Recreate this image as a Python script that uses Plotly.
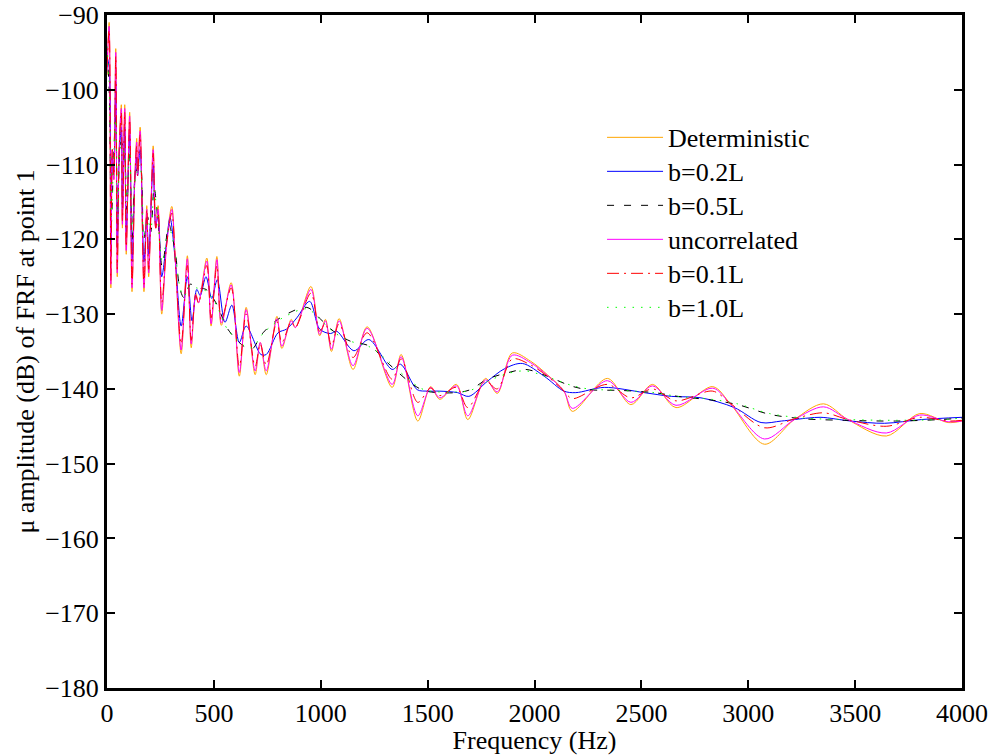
import plotly.graph_objects as go

# Frequency grid (Hz) of the deterministic / uncorrelated / b=0.1L curves
freq_main = [0, 10, 18, 25, 32, 41, 48, 57, 67, 72, 83, 90, 106, 117, 130, 139, 143, 155,
             173, 186, 195, 216, 228, 239, 256, 280, 303, 320, 347, 376, 394, 415, 428,
             467, 487, 514, 535, 581, 619, 651, 693, 717, 745, 795, 818, 862, 881, 954,
             995, 1022, 1050, 1086, 1151, 1217, 1334, 1376, 1454, 1514, 1557, 1635, 1688,
             1771, 1826, 1896, 1982, 2060, 2138, 2177, 2341, 2451, 2552, 2662, 2834, 2919,
             3076, 3216, 3352, 3466, 3646, 3802, 3935, 4000]

deterministic = [-98, -91, -126.5, -108, -112, -94.5, -125, -108, -102, -118.5, -102, -122,
                 -103, -127, -112, -106.5, -111.5, -105, -127, -115.5, -125, -107.5, -118.5,
                 -115.5, -130, -120, -115.6, -123, -135.3, -122.2, -134.5, -127.2, -128.5,
                 -122.5, -131.6, -122.3, -131.5, -125.8, -138.3, -129.1, -138.1, -133.8,
                 -138.1, -130.3, -134.6, -130.7, -131.8, -126.3, -132.9, -130.7, -135.0,
                 -130.6, -137.4, -131.7, -139.8, -135.4, -144.3, -139.7, -141.4, -139.4,
                 -144.1, -138.6, -140.6, -135.2, -136.3, -138.1, -140.3, -143.0, -138.6,
                 -142.1, -139.4, -142.5, -139.7, -142.1, -147.4, -144.1, -142.0, -144.1,
                 -146.3, -143.3, -144.5, -144.3]

uncorrelated = [-97.5, -91.5, -126, -108, -112, -95, -124.5, -108, -102.5, -118, -102.5, -121.5,
                -103.5, -126.5, -112, -107, -111.5, -105.5, -126.5, -116, -124.5, -108, -118.5,
                -116, -129.5, -120.5, -116, -123, -134.8, -122.6, -134, -127.4, -128.5,
                -122.9, -131.3, -122.7, -131.2, -126.1, -137.8, -129.4, -137.6, -133.8,
                -137.6, -130.6, -134.3, -130.9, -131.8, -126.7, -132.7, -130.9, -134.7,
                -130.9, -136.9, -131.9, -139.4, -135.7, -143.6, -139.8, -141.2, -139.6,
                -143.6, -138.8, -140.4, -135.5, -136.5, -138.2, -140.3, -142.6, -138.9,
                -141.8, -139.6, -142.2, -139.9, -142.1, -146.7, -144.1, -142.4, -144.1,
                -145.9, -143.5, -144.4, -144.3]

b01 = [-97, -92, -125.5, -108, -111.5, -95.5, -124, -108, -103, -117.5, -103, -121,
       -104, -126, -112, -107.5, -111.5, -106, -126, -116, -124, -108.5, -118.5,
       -116.5, -128.5, -120.5, -116.5, -123, -134, -123.5, -133.5, -127.5, -128.5,
       -123.5, -130.5, -123.5, -130.8, -126.5, -137, -130, -137, -134,
       -136.8, -131, -133.8, -131, -131.8, -127.2, -132.3, -131.2, -134.2,
       -131.3, -135.8, -132.5, -138.7, -136.0, -141.8, -139.9, -140.9, -139.8,
       -142.5, -139.0, -140.0, -136.0, -136.8, -138.3, -140.3, -141.3, -139.4,
       -141.2, -140.0, -141.6, -140.3, -142.0, -145.2, -144.0, -143.2, -144.1,
       -145.0, -143.8, -144.3, -144.2]

# b = 0.2L
freq_b02 = [0, 10, 18, 25, 32, 41, 48, 57, 67, 72, 83, 90, 106, 117, 130, 139, 143, 155,
            173, 186, 195, 216, 228, 239, 256, 280, 295, 320, 347, 376, 398, 420, 436,
            463, 490, 516, 552, 584, 619, 651, 720, 745, 800, 840, 888, 948, 995, 1045,
            1075, 1155, 1225, 1334, 1373, 1451, 1500, 1557, 1640, 1693, 1779, 1860, 1943,
            2045, 2138, 2193, 2326, 2513, 2640, 2779, 2935, 3060, 3155, 3280, 3340, 3480,
            3637, 3810, 4000]
b02 = [-95.5, -97, -122, -109, -111, -99, -121, -109, -105, -116, -105, -119,
       -106, -123, -112, -109, -111.5, -108, -123, -117, -122, -110, -118, -117,
       -125, -120, -117.1, -123, -131.6, -125.0, -130.9, -126.7, -127.5,
       -125.0, -127.9, -125.4, -131.1, -128.8, -133.8, -131.6, -135.4, -135.4,
       -132.5, -132.0, -130.5, -128.3, -132.0, -132.6, -132.3, -134.9, -133.4,
       -137.4, -136.7, -140.1, -140.3, -140.3, -140.5, -141.0, -139.0, -137.3,
       -136.6, -138.3, -140.3, -140.5, -139.8, -140.5, -141.0, -141.2, -142.5,
       -144.5, -144.3, -143.9, -143.8, -144.3, -144.6, -144.1, -143.8]

# b = 0.5L
freq_b05 = [0, 10, 20, 30, 41, 50, 65, 80, 92, 106, 118, 135, 155, 172, 190, 205, 220,
            240, 258, 290, 305, 320, 342, 360, 390, 420, 463, 510, 565, 640, 677, 730,
            810, 935, 1000, 1060, 1137, 1230, 1320, 1430, 1493, 1635, 1700, 1779, 1880,
            1960, 2060, 2170, 2250, 2400, 2560, 2670, 2830, 2950, 3100, 3260, 3450, 3690,
            3900, 4000]
b05 = [-95, -100, -118, -110, -103, -118, -107, -108, -116, -108, -120, -111, -110,
       -120, -117, -119, -113, -118, -123.6, -118, -119.6, -121.8, -126.7, -127.8,
       -126.0, -126.5, -126.7, -128.5, -132.0, -134.3, -134.7, -132.5, -130.5, -129.1,
       -130.7, -132.3, -133.6, -134.3, -136.7, -139.4, -140.3, -140.5, -140.1, -138.7,
       -137.8, -137.4, -138.3, -139.6, -140.1, -140.2, -140.5, -141.0, -141.5, -142.1,
       -143.4, -144.0, -144.2, -144.3, -144.1, -143.9]

# b = 1.0L
freq_b10 = [0, 10, 20, 30, 41, 50, 65, 80, 92, 106, 118, 135, 155, 172, 190, 205, 220,
            240, 258, 290, 305, 320, 342, 360, 390, 420, 463, 510, 565, 640, 677, 730,
            810, 935, 1000, 1060, 1137, 1230, 1320, 1430, 1493, 1635, 1700, 1779, 1880,
            1960, 2060, 2170, 2250, 2400, 2560, 2670, 2830, 2950, 3100, 3260, 3450, 3690,
            3900, 4000]
b10 = [-94.2, -99, -117, -110, -104, -117, -107.5, -108.5, -115, -108.5, -119, -111.5,
       -110.5, -119.6, -117.5, -118.5, -113.5, -118, -123, -118.5, -119.6, -122,
       -126.5, -127.6, -126.2, -126.5, -126.9, -128.7, -132.1, -134.2, -134.5, -132.6,
       -130.7, -129.3, -130.8, -132.4, -133.6, -134.4, -136.4, -139.2, -140.2, -140.4,
       -140.2, -139.0, -137.9, -137.6, -138.4, -139.5, -140.0, -140.2, -140.5, -141.0,
       -141.4, -142.0, -143.3, -143.9, -144.1, -144.2, -144.1, -143.9]

series = [
    ("Deterministic", freq_main, deterministic, "#FFA500", "solid"),
    ("b=0.2L", freq_b02, b02, "#0000FF", "solid"),
    ("b=0.5L", freq_b05, b05, "#000000", "7px,10px"),
    ("uncorrelated", freq_main, uncorrelated, "#FF00FF", "solid"),
    ("b=0.1L", freq_main, b01, "#FF0000", "12px,5px,2px,5px"),
    ("b=1.0L", freq_b10, b10, "#00FF00", "1.5px,7px"),
]

FONT = "Liberation Serif, Times New Roman, serif"

# legend rows: one legend box per entry so the row pitch can be set exactly
LEGEND_X = 0.579
LEGEND_TOP = 0.853
ROW_PITCH = 34 / 673

fig = go.Figure()
legend_layouts = {}
for i, (name, fx, fy, color, dash) in enumerate(series):
    key = "legend" if i == 0 else f"legend{i + 1}"
    fig.add_trace(go.Scatter(
        x=fx, y=fy, name=name, mode="lines", legend=key,
        line=dict(color=color, width=1, dash=dash, shape="spline", smoothing=0.9),
    ))
    legend_layouts[key] = dict(
        x=LEGEND_X, y=LEGEND_TOP - i * ROW_PITCH, xanchor="left", yanchor="top",
        bgcolor="rgba(0,0,0,0)", borderwidth=0,
        font=dict(family=FONT, size=26, color="black"),
        itemwidth=56,
    )

axis_common = dict(
    showline=True, linecolor="black", linewidth=3, mirror="allticks",
    ticks="inside", ticklen=8, tickwidth=2, tickcolor="black",
    showgrid=False, zeroline=False, automargin=False,
    tickfont=dict(family=FONT, size=26, color="black"),
)

fig.update_layout(
    width=992, height=755,
    margin=dict(l=107, r=30, t=15, b=67),
    paper_bgcolor="white", plot_bgcolor="white",
    font=dict(family=FONT, size=26, color="black"),
    xaxis=dict(range=[0, 4000], dtick=500, tick0=0,
               title=dict(text="Frequency (Hz)", standoff=2,
                          font=dict(family=FONT, size=26)),
               **axis_common),
    yaxis=dict(range=[-180, -90], dtick=10, tick0=-180,
               title=dict(text="μ amplitude (dB) of FRF at point 1", standoff=4,
                          font=dict(family=FONT, size=26)),
               **axis_common),
    showlegend=True,
    **legend_layouts,
)

fig.write_html("out.html")
